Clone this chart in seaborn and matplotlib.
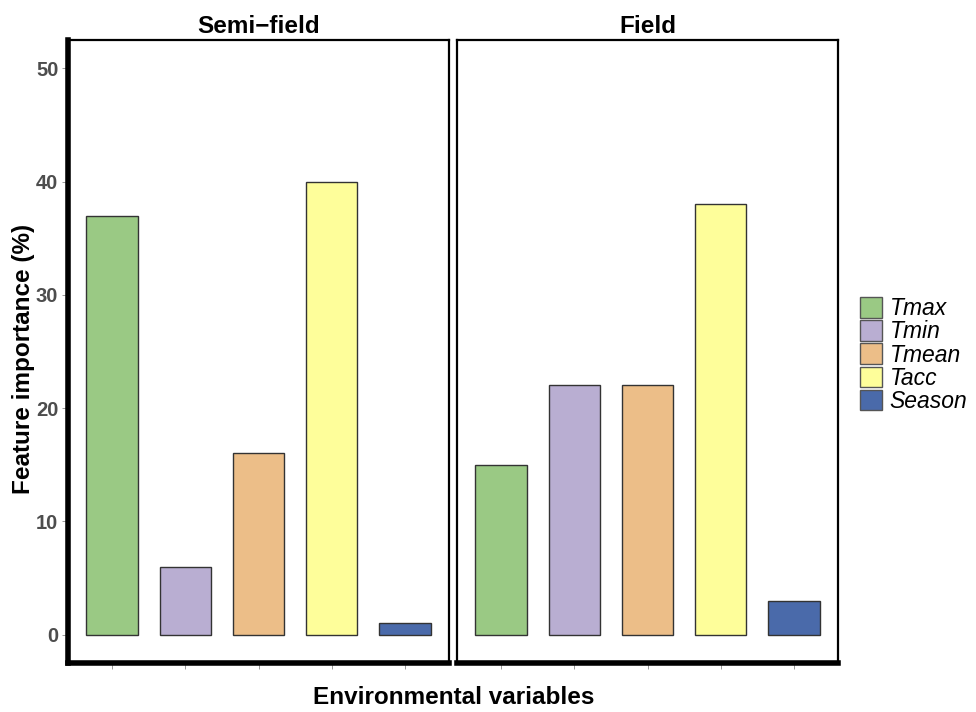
import matplotlib
matplotlib.use("Agg")
import matplotlib.pyplot as plt
import seaborn as sns
import pandas as pd
from matplotlib.patches import Patch

# ── Data ──────────────────────────────────────────────
variables = ["Tmax", "Tmin", "Tmean", "Tacc", "Season"]
semi_field = [37, 6, 16, 40, 1]
field = [15, 22, 22, 38, 3]
panels = ["Semi\u2212field", "Field"]
colors = ["#9AC984", "#B9AED2", "#ECBE88", "#FEFE9A", "#4A6AAA"]
y_ticks = [0, 10, 20, 30, 40, 50]
# ──────────────────────────────────────────────────────

df = pd.DataFrame({
    "panel": [panels[0]] * 5 + [panels[1]] * 5,
    "variable": variables * 2,
    "importance": semi_field + field,
})
palette = dict(zip(variables, colors))

sns.set_theme(style="white")
plt.rcParams["font.family"] = ["Liberation Sans", "DejaVu Sans"]
plt.rcParams["text.color"] = "black"

fig = plt.figure(figsize=(9.76, 7.12), dpi=100)
W, H = 976, 712
bottom = (H - 663) / H
height = (663 - 40) / H
ax1 = fig.add_axes([68 / W, bottom, 381 / W, height])
ax2 = fig.add_axes([457 / W, bottom, 381 / W, height])

for ax, name in zip([ax1, ax2], panels):
    sub = df[df["panel"] == name]
    sns.barplot(data=sub, x="variable", y="importance", hue="variable",
                order=variables, hue_order=variables, palette=palette,
                width=0.7, edgecolor="#333333", linewidth=1.0,
                saturation=1, legend=False, ax=ax)
    ax.set_ylim(-2.5, 52.5)
    ax.set_xlim(-0.6, 4.6)
    ax.set_title(name, fontsize=17.5, fontweight="bold", pad=5,
                 color="black")
    ax.set_xlabel("")
    ax.set_ylabel("")
    ax.set_xticks(range(len(variables)))
    ax.set_xticklabels([])
    for s in ax.spines.values():
        s.set_color("black")
        s.set_linewidth(1.6)
    ax.spines["bottom"].set_linewidth(4)
    ax.tick_params(axis="x", bottom=True, length=4, width=0.6,
                   color="#888888", pad=2)

ax1.spines["left"].set_linewidth(4)
ax1.set_yticks(y_ticks)
ax1.set_yticklabels([str(t) for t in y_ticks], fontsize=14.5,
                    fontweight="bold", color="#4D4D4D")
ax1.tick_params(axis="y", left=True, length=4, width=0.6,
                color="#888888", pad=3)
ax2.set_yticks(y_ticks)
ax2.set_yticklabels([])
ax2.tick_params(axis="y", left=False)

fig.text(24 / W, (H - 359) / H, "Feature importance (%)", rotation=90,
         ha="center", va="center", fontsize=17.5, fontweight="bold")
fig.text(454 / W, (H - 697) / H, "Environmental variables",
         ha="center", va="center", fontsize=17.5, fontweight="bold")

handles = [Patch(facecolor=c, edgecolor="#555555", linewidth=1.0)
           for c in colors]
leg = fig.legend(handles, variables, loc="center left",
                 bbox_to_anchor=(860 / W, (H - 355) / H),
                 frameon=False, prop={"style": "italic", "size": 16.5},
                 handlelength=0.95, handleheight=1.0, handletextpad=0.35,
                 labelspacing=0.0, borderaxespad=0, borderpad=0)

fig.savefig("out.png", dpi=100)
